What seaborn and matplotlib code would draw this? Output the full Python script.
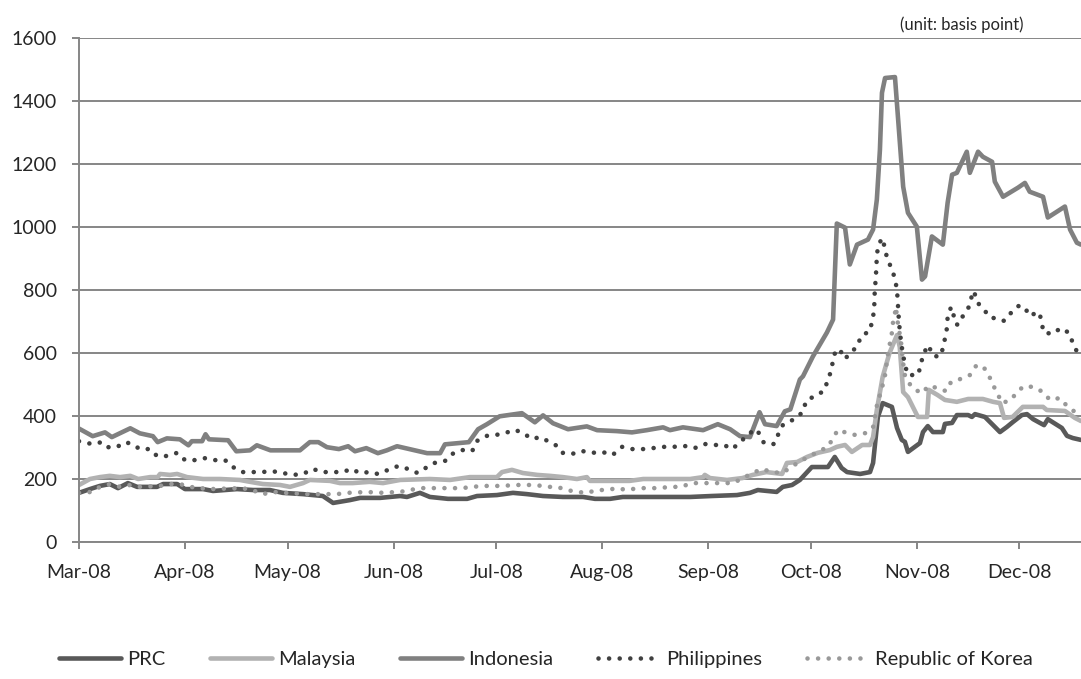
import pandas as pd
import matplotlib
matplotlib.use('Agg')
import matplotlib.pyplot as plt
import matplotlib.dates as mdates
import seaborn as sns

# days counted from 1 Mar 2008, values in basis points
start = pd.Timestamp('2008-03-01')

prc_days = [0, 3.2, 6.1, 9, 11.4, 14.3, 17, 22.8, 24.6, 28.7, 31, 36.3, 39.2, 46.2, 50.9,
            55.8, 59.6, 65.5, 71.3, 74.3, 79.2, 82.2, 88, 93.9, 95.9, 99.7, 102.6, 107.9, 113.5, 116.4,
            122.2, 126.9, 131, 135.7, 141.5, 147.4, 150.9, 155.3, 159, 169, 178.7, 185, 192.4, 196.2, 198.5,
            204, 205.8, 208.5, 210.8, 214.3, 219, 221, 223, 224.6, 228.4, 231.3, 232.2, 233.6, 235, 237.7,
            239.2, 240.6, 241.5, 242.4, 245.9, 246.8, 248.2, 249.7, 252.6, 253.2, 255.3, 256.7, 260, 261.1, 262,
            264.9, 267.3, 269.3, 271.3, 273.1, 275.7, 277.2, 279, 281, 282.2, 283.3, 287.4, 288.9, 290.6, 293]
prc_bp = [156, 168, 178, 184, 171, 187, 175, 175, 184, 184, 168, 168, 162, 168, 165,
          165, 156, 152, 146, 124, 133, 140, 140, 146, 143, 156, 143, 137, 137, 146,
          149, 156, 152, 146, 143, 143, 137, 137, 143, 143, 143, 146, 149, 156, 165,
          159, 175, 181, 197, 238, 238, 270, 235, 222, 216, 222, 251, 397, 441, 429,
          362, 324, 318, 286, 314, 349, 368, 349, 349, 375, 378, 403, 403, 397, 406,
          397, 371, 349, 365, 381, 403, 406, 390, 378, 371, 390, 362, 337, 330, 324]

mys_days = [0, 3.2, 6.1, 9, 12, 15, 17.3, 20.8, 23, 23.7, 26.6, 28.7, 31.6, 36.3, 41.2,
            47, 50, 53.8, 58.8, 61.7, 65.5, 67.5, 73.4, 76.3, 80, 85, 88.9, 93.9, 102.6, 108.5,
            114.3, 122.2, 123.7, 126.6, 129.8, 134, 137.7, 141.5, 145.6, 148.5, 149.4, 161, 165, 178.7, 182.5,
            183, 184.5, 189.5, 194, 197, 201, 205.6, 207, 210, 212.9, 216, 219.6, 221.6, 224, 226,
            229, 231.3, 232.2, 233.3, 235, 237, 239.2, 240, 241, 242.4, 245.3, 248, 248.5, 251, 253.2,
            256.7, 260, 264.3, 267.3, 269.3, 270.5, 273, 276, 281.9, 283, 288.3, 291.2, 293]
mys_bp = [181, 200, 206, 210, 206, 210, 200, 206, 206, 216, 213, 216, 206, 200, 200,
          197, 191, 184, 181, 175, 187, 197, 194, 187, 187, 191, 187, 197, 200, 197,
          206, 206, 222, 229, 219, 213, 210, 206, 200, 206, 194, 194, 200, 200, 206,
          213, 203, 197, 203, 213, 222, 216, 251, 254, 270, 283, 292, 302, 308, 286,
          308, 308, 333, 419, 524, 600, 657, 619, 476, 460, 397, 397, 483, 467, 451,
          445, 454, 454, 445, 441, 394, 397, 429, 429, 419, 416, 394, 384]

idn_days = [0, 4, 7.6, 9.6, 15, 17.8, 21.6, 23, 25.7, 29.5, 32, 33, 36, 37, 38,
            43.6, 46, 50, 52, 56, 64.6, 67.5, 70, 72.5, 76, 78.7, 80.7, 84, 87.4, 90,
            93, 101.8, 105.6, 107, 114, 116.7, 119.3, 123, 129.5, 133.3, 135.7, 138.6, 143, 148.5, 151.5,
            157.3, 161.7, 166, 170.8, 172.8, 176.6, 182.5, 186.8, 190.4, 193.3, 196.2, 199, 200.6, 204, 206.4,
            208, 210.8, 211.7, 214.6, 218.7, 220.5, 221.6, 224, 225.4, 227.5, 230.7, 232.2, 233.3, 234.2, 234.8,
            235.7, 238.6, 241, 242.4, 245, 246.5, 247.4, 249.4, 252.6, 254, 255.3, 256.7, 259.6, 260.5, 262.9,
            264.3, 267, 267.8, 270.2, 274.6, 276.6, 278, 281.9, 283.3, 288.3, 289.8, 291.8, 293]
idn_bp = [360, 336, 348, 333, 361, 345, 336, 317, 329, 326, 307, 320, 320, 342, 326,
          323, 288, 291, 307, 291, 291, 317, 317, 301, 295, 304, 288, 298, 282, 291,
          304, 282, 282, 310, 317, 358, 374, 399, 409, 380, 402, 377, 358, 367, 355,
          352, 348, 355, 364, 355, 364, 355, 374, 358, 336, 333, 412, 374, 368, 415,
          421, 516, 526, 589, 665, 706, 1011, 998, 881, 944, 960, 992, 1087, 1245, 1426,
          1473, 1476, 1128, 1045, 1001, 833, 843, 970, 944, 1077, 1166, 1172, 1239, 1172, 1239,
          1223, 1207, 1144, 1096, 1125, 1140, 1112, 1096, 1030, 1065, 992, 950, 944]

phl_days = [0, 3.8, 6.7, 8.5, 11, 13.5, 15.5, 17.8, 20.8, 22.8, 25.7, 28.7, 31, 34, 36.8,
            39.8, 42.7, 45, 47.7, 50.6, 53.5, 56.4, 59.6, 62.6, 65.5, 68.4, 71, 74, 77, 79.8,
            82, 85, 87.4, 90.4, 93.3, 96.2, 99, 101.8, 104, 107, 109, 112, 115, 116.4, 119.3,
            122, 124.6, 127.5, 129.8, 132.5, 134.8, 137, 139.8, 141.5, 144, 147, 150, 153, 156, 158.8,
            161.7, 165, 167.8, 170.8, 173.7, 177, 180, 183, 186, 188.6, 191, 193, 195.3, 197.7, 198.8,
            200.3, 203.2, 204.4, 205.8, 207.3, 210, 211.7, 212.6, 215.2, 217.8, 219, 220, 220.5, 221.3, 222.5,
            224, 225.7, 227.5, 228.7, 231.3, 231.9, 232.5, 232.7, 233, 233.3, 233.6, 234.8, 235.7, 236.3, 237.7,
            238.6, 239.2, 239.8, 240.4, 241, 241.5, 242.4, 245.3, 246.2, 246.8, 248.5, 249.4, 251.5, 252.6, 253.2,
            253.8, 254, 255, 255.6, 256.1, 257, 258.5, 260.2, 261, 261.7, 262.6, 264.6, 266.7, 268.4, 270.5,
            272.5, 274.6, 276.6, 277.8, 280.7, 281.6, 281.9, 284.5, 287.1, 289.5, 290.6, 292, 293]
phl_bp = [320, 311, 317, 301, 301, 317, 311, 295, 295, 273, 273, 283, 260, 260, 266,
          260, 260, 238, 222, 222, 222, 225, 219, 213, 216, 232, 222, 222, 222, 232,
          219, 222, 216, 229, 241, 232, 219, 238, 251, 257, 279, 292, 289, 321, 337,
          340, 346, 356, 346, 327, 333, 321, 305, 283, 279, 289, 283, 286, 276, 302,
          295, 295, 298, 302, 302, 305, 298, 311, 308, 308, 295, 314, 337, 359, 346,
          314, 311, 340, 371, 378, 397, 413, 448, 464, 479, 514, 546, 578, 610, 610,
          581, 603, 619, 654, 670, 702, 733, 800, 838, 905, 937, 965, 933, 899, 867,
          835, 800, 695, 632, 594, 562, 530, 530, 562, 597, 625, 594, 587, 613, 645,
          679, 714, 746, 730, 695, 689, 718, 746, 778, 797, 762, 737, 711, 711, 702,
          727, 749, 746, 718, 730, 698, 667, 660, 679, 664, 632, 600, 590]

kor_days = [0, 3.8, 6.1, 9, 12, 15, 17.8, 23.7, 26.6, 29.5, 32.5, 35.4, 38.3, 47.7, 50.6,
            53.8, 56.7, 60.2, 66.7, 75.4, 78.4, 84.5, 87.4, 93.9, 96.8, 99.7, 112, 115, 118.1, 124,
            127.2, 133.6, 136.8, 139.8, 142.7, 145.6, 148.5, 151.5, 154.4, 157.3, 160.2, 163.5, 169.6, 172.8, 176,
            179.2, 191.2, 194.2, 197, 199.7, 202.6, 205.6, 207.9, 210.5, 213.2, 216, 219, 220.5, 221.9, 224.6,
            226.9, 230.1, 232.2, 233.3, 234.2, 235, 235.7, 236.5, 237.7, 238, 238.6, 238.9, 239.2, 239.8, 240.4,
            241, 241.5, 242.4, 244.4, 246.8, 248.2, 251.2, 253.5, 255, 257.6, 260.5, 262.3, 264.3, 266, 267.3,
            268.5, 269.9, 272.5, 274.3, 276.3, 279.2, 281.9, 283.9, 286.8, 288.9, 291.2, 292.7]
kor_bp = [156, 159, 175, 184, 175, 181, 175, 178, 184, 184, 175, 171, 168, 171, 165,
          152, 159, 156, 152, 152, 156, 159, 156, 159, 165, 171, 171, 175, 178, 178,
          181, 181, 175, 175, 165, 159, 156, 165, 165, 171, 165, 171, 171, 175, 175,
          187, 187, 203, 219, 232, 222, 219, 235, 254, 270, 286, 302, 330, 356, 346,
          340, 346, 365, 432, 467, 498, 530, 594, 664, 695, 727, 746, 711, 673, 632,
          568, 530, 508, 483, 473, 495, 489, 479, 508, 517, 530, 559, 559, 530, 498,
          473, 441, 451, 476, 495, 492, 476, 451, 457, 432, 413, 403]

series = [
    ('PRC', prc_days, prc_bp, '#595959', '-'),
    ('Malaysia', mys_days, mys_bp, '#b2b2b2', '-'),
    ('Indonesia', idn_days, idn_bp, '#808080', '-'),
    ('Philippines', phl_days, phl_bp, '#404040', (0, (0.01, 2.3))),
    ('Republic of Korea', kor_days, kor_bp, '#999999', (0, (0.01, 2.3))),
]

sns.set_style('white')
plt.rcParams['font.family'] = ['Lato', 'DejaVu Sans']

fig = plt.figure(figsize=(10.81, 6.79), dpi=100)
ax = fig.add_axes([79 / 1081, 1 - 542 / 679, 1002 / 1081, 504 / 679])

for name, days, vals, col, ls in series:
    x = start + pd.to_timedelta(days, unit='D')
    sns.lineplot(x=x, y=vals, ax=ax, color=col, linewidth=3.3, linestyle=ls,
                 label=name, estimator=None, sort=False,
                 dash_capstyle='round', solid_joinstyle='round')

grid_col = '#868686'
ax.set_ylim(0, 1600)
ax.set_yticks(range(0, 1601, 200))
ax.set_xlim(start, start + pd.Timedelta(days=293))
ax.xaxis.set_major_locator(mdates.MonthLocator())
ax.xaxis.set_major_formatter(mdates.DateFormatter('%b-%y'))
ax.set_xlabel('')
ax.set_ylabel('')
ax.yaxis.grid(True, color=grid_col, linewidth=1.4)
ax.xaxis.grid(False)
ax.set_axisbelow(True)
for s in ['top', 'right']:
    ax.spines[s].set_visible(False)
for s in ['left', 'bottom']:
    ax.spines[s].set_color(grid_col)
    ax.spines[s].set_linewidth(1.4)
ax.tick_params(axis='y', left=True, length=5, width=1.4, color=grid_col, pad=11, labelsize=14)
ax.tick_params(axis='x', bottom=True, length=5, width=1.4, color=grid_col, pad=11, labelsize=14)

handles, labels = ax.get_legend_handles_labels()
ax.get_legend().remove()
fig.legend(handles, labels, loc='center', bbox_to_anchor=(0.505, 1 - 659 / 679), ncol=5,
           frameon=False, fontsize=14.5, handlelength=3.1, columnspacing=2.2, handletextpad=0.3)

fig.text(1023 / 1081, 1 - 25 / 679, '(unit: basis point)', ha='right', va='center', fontsize=12)

fig.savefig('out.png', dpi=100)
